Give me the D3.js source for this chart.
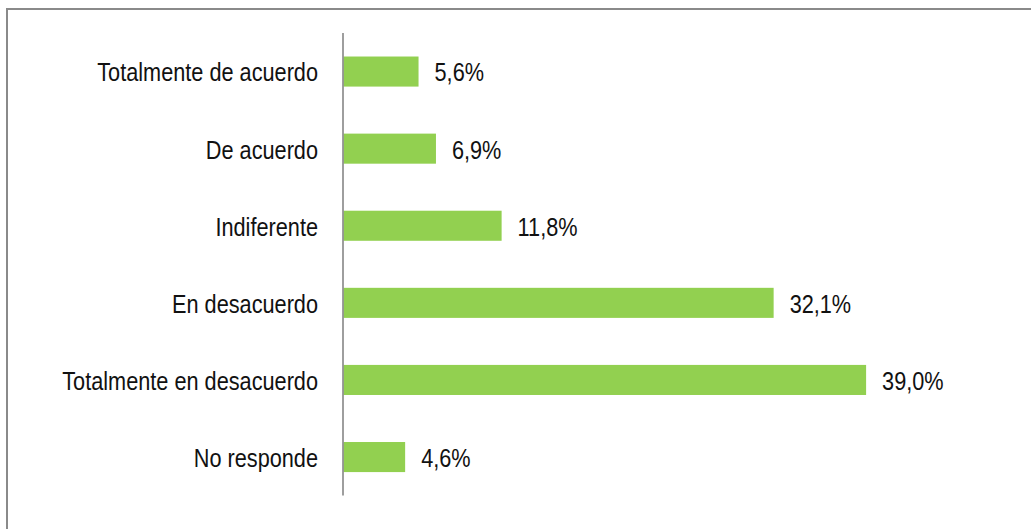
<!DOCTYPE html>
<html>
<head>
<meta charset="utf-8">
<script src="https://cdn.jsdelivr.net/npm/d3@7"></script>
<style>
html,body{margin:0;padding:0;background:#fff;}
svg{display:block;}
</style>
</head>
<body>
<svg id="chart" width="1031" height="529"></svg>
<script>
const categories = ["Totalmente de acuerdo","De acuerdo","Indiferente","En desacuerdo","Totalmente en desacuerdo","No responde"];
const values = [5.6, 6.9, 11.8, 32.1, 39.0, 4.6];
const valueLabels = ["5,6%","6,9%","11,8%","32,1%","39,0%","4,6%"];

const W = 1031, H = 529;
const svg = d3.select("#chart");
const FONT = "'Liberation Sans',Arial,sans-serif";
const FS = 26;
const NARROW = 0.835; // emulate Arial Narrow

// outer frame (cropped: only top and left edges visible)
svg.append("rect")
  .attr("x", 7).attr("y", 9)
  .attr("width", W + 20).attr("height", H + 20)
  .attr("fill", "none").attr("stroke", "#8a8a8a").attr("stroke-width", 2);

const x = d3.scaleLinear().domain([0, 40]).range([343.5, 879.5]);
const y = d3.scaleBand().domain(categories).range([33, 495.6]).paddingInner(0.61).paddingOuter(0.305);

svg.append("g").selectAll("rect").data(categories).join("rect")
  .attr("x", x(0))
  .attr("y", d => y(d))
  .attr("width", (d, i) => x(values[i]) - x(0))
  .attr("height", y.bandwidth())
  .attr("fill", "#92D050");

// category axis line
svg.append("line")
  .attr("x1", 343).attr("x2", 343)
  .attr("y1", 33).attr("y2", 495.6)
  .attr("stroke", "#868686").attr("stroke-width", 1.6);

// category labels
svg.append("g").selectAll("text").data(categories).join("text")
  .attr("transform", d => `translate(318,${y(d) + y.bandwidth() / 2}) scale(${NARROW},1)`)
  .attr("dy", "0.38em")
  .attr("text-anchor", "end")
  .attr("font-family", FONT).attr("font-size", FS)
  .attr("fill", "#111")
  .text(d => d);

// value labels
svg.append("g").selectAll("text").data(categories).join("text")
  .attr("transform", (d, i) => `translate(${x(values[i]) + 16},${y(d) + y.bandwidth() / 2}) scale(${NARROW},1)`)
  .attr("dy", "0.38em")
  .attr("text-anchor", "start")
  .attr("font-family", FONT).attr("font-size", FS)
  .attr("fill", "#111")
  .text((d, i) => valueLabels[i]);
</script>
</body>
</html>
